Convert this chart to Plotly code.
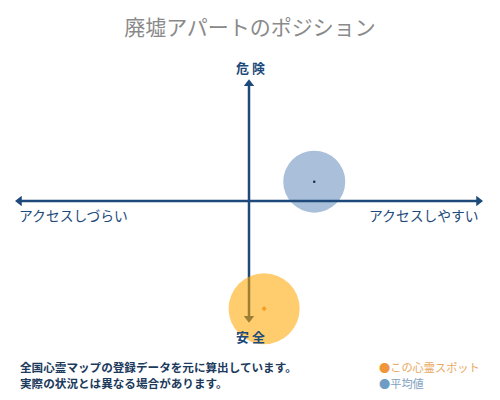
import plotly.graph_objects as go

# DATA
categories = ["この心霊スポット", "平均値"]
access = [0.065, 0.28]      # left: アクセスしづらい / right: アクセスしやすい
danger = [-0.89, 0.16]      # bottom: 安全 / top: 危険

navy = "#1d4a7a"
font_jp = "Noto Sans CJK JP"

fig = go.Figure()

# average value (under the axes)
fig.add_trace(go.Scatter(x=[access[1]], y=[danger[1]], mode="markers",
                         marker=dict(size=62, color="#aac0da"), cliponaxis=False,
                         hoverinfo="skip", showlegend=False))
fig.add_trace(go.Scatter(x=[access[1]], y=[danger[1]], mode="markers",
                         marker=dict(size=2.5, color="#1a2a40"), cliponaxis=False,
                         name=categories[1], showlegend=False))

# axes with arrow heads
fig.add_trace(go.Scatter(x=[-0.985, 0.985], y=[0, 0], mode="lines",
                         line=dict(color=navy, width=2.5),
                         hoverinfo="skip", showlegend=False))
fig.add_trace(go.Scatter(x=[0, 0], y=[-0.97, 0.97], mode="lines",
                         line=dict(color=navy, width=2.5),
                         hoverinfo="skip", showlegend=False))
fig.add_trace(go.Scatter(x=[-0.985, 0.985, 0, 0], y=[0, 0, 0.97, -0.97],
                         mode="markers", cliponaxis=False,
                         marker=dict(size=9, color=navy,
                                     symbol=["triangle-left", "triangle-right",
                                             "triangle-up", "triangle-down"]),
                         hoverinfo="skip", showlegend=False))

# this spot (over the axes, semi transparent)
fig.add_trace(go.Scatter(x=[access[0]], y=[danger[0]], mode="markers",
                         marker=dict(size=71, color="rgba(255,165,0,0.57)"),
                         cliponaxis=False, hoverinfo="skip", showlegend=False))
fig.add_trace(go.Scatter(x=[access[0]], y=[danger[0]], mode="markers",
                         marker=dict(size=4, color="#f5a020", symbol="diamond"),
                         cliponaxis=False, name=categories[0], showlegend=False))

ann = [
    dict(text="<b>危 険</b>", x=250, y=67, size=13, color=navy, xanchor="center"),
    dict(text="<b>安 全</b>", x=250, y=336, size=13, color=navy, xanchor="center"),
    dict(text="アクセスしづらい", x=17, y=215, size=13.8, color=navy, xanchor="left"),
    dict(text="アクセスしやすい", x=481, y=215, size=13.8, color=navy, xanchor="right"),
    dict(text="<b>全国心霊マップの登録データを元に算出しています。</b>", x=18, y=367,
         size=11.6, color="#1b3a5c", xanchor="left"),
    dict(text="<b>実際の状況とは異なる場合があります。</b>", x=18, y=383,
         size=11.6, color="#1b3a5c", xanchor="left"),
    dict(text="<span style='color:#f0953a'>●</span>この心霊スポット", x=377, y=367,
         size=11.2, color="#e8a860", xanchor="left"),
    dict(text="<span style='color:#6f9cc4'>●</span>平均値", x=377, y=383,
         size=11.2, color="#7e9fc0", xanchor="left"),
]
# positions given in pixels of the 500x400 page, converted to paper coords
for a in ann:
    fig.add_annotation(text=a["text"], xref="paper", yref="paper",
                       x=(a["x"] - 16) / 466, y=(400 - a["y"] - 78) / 242,
                       xanchor=a["xanchor"], yanchor="middle", showarrow=False,
                       font=dict(family=font_jp, size=a["size"], color=a["color"]))

fig.update_layout(
    width=500, height=400,
    margin=dict(l=16, r=18, t=80, b=78),
    paper_bgcolor="white", plot_bgcolor="white",
    title=dict(text="廃墟アパートのポジション", x=0.5, y=1 - 28 / 400,
               xanchor="center", yanchor="middle",
               font=dict(family=font_jp, size=21, color="#8a8a8a")),
    xaxis=dict(range=[-1, 1], visible=False, fixedrange=True),
    yaxis=dict(range=[-1, 1], visible=False, fixedrange=True),
    showlegend=False,
)

fig.write_html("out.html", config={"displayModeBar": False},
               post_script="document.body.style.margin='0';")
